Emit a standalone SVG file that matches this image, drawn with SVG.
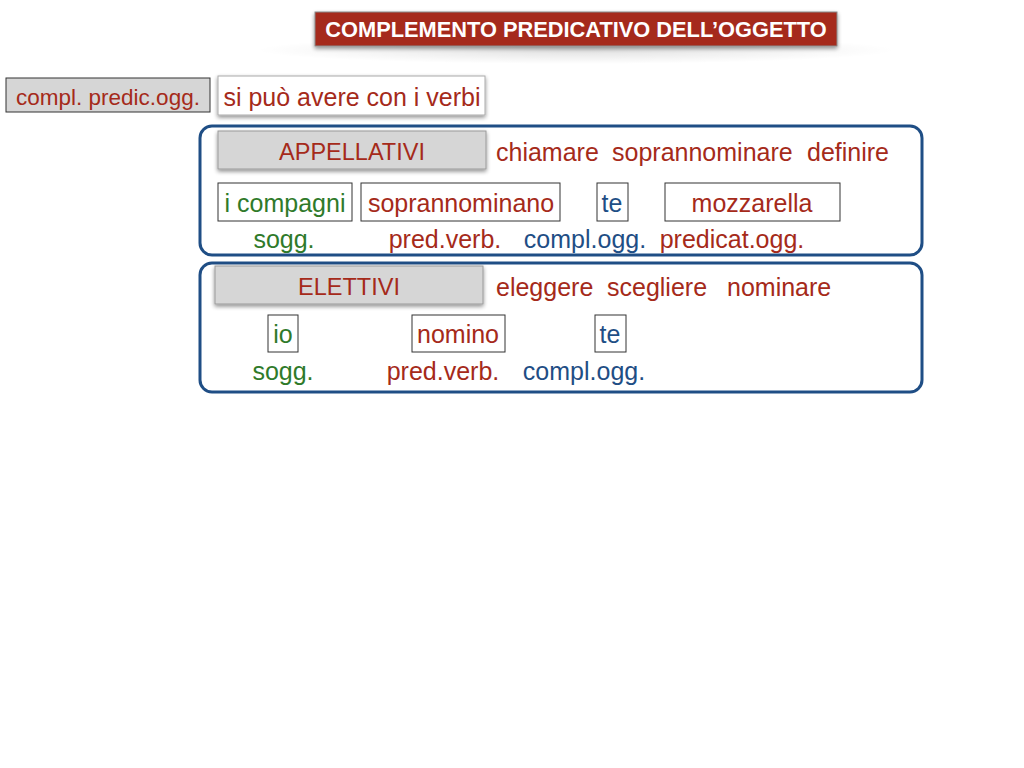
<svg xmlns="http://www.w3.org/2000/svg" width="1024" height="768" viewBox="0 0 1024 768">
<defs>
<filter id="sh" x="-20%" y="-50%" width="140%" height="250%">
<feGaussianBlur in="SourceAlpha" stdDeviation="2"/>
<feOffset dx="0" dy="2" result="b"/>
<feComponentTransfer><feFuncA type="linear" slope="0.45"/></feComponentTransfer>
<feMerge><feMergeNode/><feMergeNode in="SourceGraphic"/></feMerge>
</filter>
<radialGradient id="glow" cx="0.5" cy="0.5" r="0.5">
<stop offset="0" stop-color="#000" stop-opacity="0.12"/>
<stop offset="1" stop-color="#000" stop-opacity="0"/>
</radialGradient>
</defs>
<style>
text{font-family:"Liberation Sans",Arial,sans-serif;}
.red{fill:#a52a1a;}
.grn{fill:#2f7a2a;}
.blu{fill:#1f4e85;}
.gray{fill:#d6d6d6;stroke:#9a9a9a;stroke-width:1;}
.wbox{fill:#fff;stroke:#333;stroke-width:1;}
.frame{fill:none;stroke:#1f4e85;stroke-width:3;}
.t{font-size:25px;}
.tb{font-size:23.5px;}
.t20{font-size:22.5px;}
</style>
<rect width="1024" height="768" fill="#fff"/>
<g id="title">
<ellipse cx="576" cy="50" rx="320" ry="14" fill="url(#glow)"/>
<rect x="315" y="12" width="522" height="34" fill="#a52a1a" stroke="#8a8a8a" stroke-width="1" filter="url(#sh)"/>
<text x="576" y="37" text-anchor="middle" font-size="21.8" font-weight="bold" fill="#fff">COMPLEMENTO PREDICATIVO DELL’OGGETTO</text>
</g>
<g id="compl">
<rect x="6" y="78" width="204" height="34" fill="#d6d6d6" stroke="#333" stroke-width="1"/>
<text x="108" y="105" text-anchor="middle" class="red t20">compl. predic.ogg.</text>
</g>
<g id="sipuo">
<rect x="218" y="76" width="267" height="39" fill="#fff" stroke="#aaa" stroke-width="1" filter="url(#sh)"/>
<text x="352" y="106" text-anchor="middle" class="red t">si può avere con i verbi</text>
</g>
<g id="appellativi-group">
<rect x="200" y="126" width="722" height="129" rx="12" class="frame"/>
<g id="appellativi">
<rect x="218" y="131" width="268" height="38" class="gray" filter="url(#sh)"/>
<text x="352" y="160" text-anchor="middle" class="red tb">APPELLATIVI</text>
</g>
<text x="496" y="161" class="red t">chiamare</text>
<text x="612" y="161" class="red t">soprannominare</text>
<text x="807" y="161" class="red t">definire</text>
<g id="icompagni"><rect x="218" y="183" width="134" height="38" class="wbox"/><text x="285" y="212" text-anchor="middle" class="grn t">i compagni</text></g>
<g id="soprannominano"><rect x="361" y="183" width="199" height="38" class="wbox"/><text x="461" y="212" text-anchor="middle" class="red t">soprannominano</text></g>
<g id="te1"><rect x="597" y="183" width="31" height="38" class="wbox"/><text x="612" y="212" text-anchor="middle" class="blu t">te</text></g>
<g id="mozzarella"><rect x="665" y="183" width="175" height="38" class="wbox"/><text x="752" y="212" text-anchor="middle" class="red t">mozzarella</text></g>
<text x="284" y="248" text-anchor="middle" class="grn t">sogg.</text>
<text x="445" y="248" text-anchor="middle" class="red t">pred.verb.</text>
<text x="585" y="248" text-anchor="middle" class="blu t">compl.ogg.</text>
<text x="732" y="248" text-anchor="middle" class="red t">predicat.ogg.</text>
</g>
<g id="elettivi-group">
<rect x="200" y="263" width="722" height="129" rx="12" class="frame"/>
<g id="elettivi">
<rect x="215" y="266" width="268" height="38" class="gray" filter="url(#sh)"/>
<text x="349" y="295" text-anchor="middle" class="red tb">ELETTIVI</text>
</g>
<text x="496" y="296" class="red t">eleggere</text>
<text x="607" y="296" class="red t">scegliere</text>
<text x="727" y="296" class="red t">nominare</text>
<g id="io"><rect x="268" y="315" width="30" height="37" class="wbox"/><text x="283" y="343" text-anchor="middle" class="grn t">io</text></g>
<g id="nomino"><rect x="412" y="315" width="93" height="37" class="wbox"/><text x="458" y="343" text-anchor="middle" class="red t">nomino</text></g>
<g id="te2"><rect x="595" y="315" width="31" height="37" class="wbox"/><text x="610" y="343" text-anchor="middle" class="blu t">te</text></g>
<text x="283" y="380" text-anchor="middle" class="grn t">sogg.</text>
<text x="443" y="380" text-anchor="middle" class="red t">pred.verb.</text>
<text x="584" y="380" text-anchor="middle" class="blu t">compl.ogg.</text>
</g>
</svg>
